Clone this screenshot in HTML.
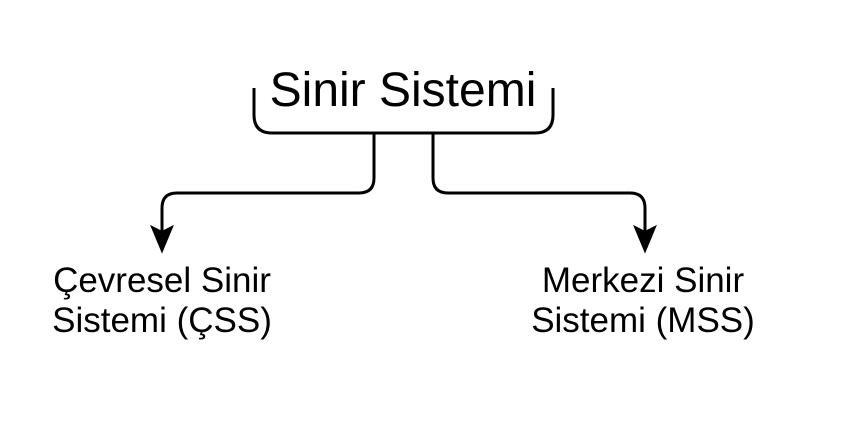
<!DOCTYPE html>
<html><head><meta charset="utf-8"><style>
html,body{margin:0;padding:0;background:#fff;}
svg{display:block}
text{font-family:"Liberation Sans",Arial,sans-serif;fill:#000}
</style></head><body>
<svg width="846" height="426" viewBox="0 0 846 426" xmlns="http://www.w3.org/2000/svg">
<path d="M254 88 V115 Q254 133 272 133 H535 Q553 133 553 115 V88" fill="none" stroke="#000" stroke-width="3"/>
<text x="403" y="106" font-size="48" text-anchor="middle">Sinir Sistemi</text>
<path d="M374 133 V178 Q374 193 359 193 H177 Q162 193 162 208 V235" fill="none" stroke="#000" stroke-width="3"/>
<path d="M433 133 V178 Q433 193 448 193 H630 Q645 193 645 208 V235" fill="none" stroke="#000" stroke-width="3"/>
<path d="M162 251 L152 227 L162 232 L172 227 Z" fill="#000" stroke="#000" stroke-width="2"/>
<path d="M645 251 L635 227 L645 232 L655 227 Z" fill="#000" stroke="#000" stroke-width="2"/>
<text x="162" y="292" font-size="35" text-anchor="middle">Çevresel Sinir</text>
<text x="162" y="332" font-size="35" text-anchor="middle">Sistemi (ÇSS)</text>
<text x="643" y="292" font-size="35" text-anchor="middle">Merkezi Sinir</text>
<text x="643" y="332" font-size="35" text-anchor="middle">Sistemi (MSS)</text>
</svg>
</body></html>
